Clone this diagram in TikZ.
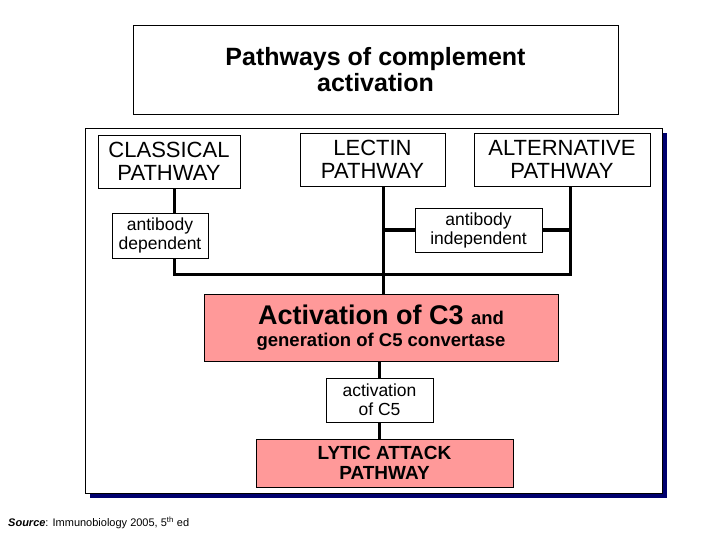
\documentclass[tikz,border=0pt]{standalone}
\usepackage{fontspec}
\setmainfont{Liberation Sans}
\definecolor{pinkbox}{RGB}{255,153,153}
\definecolor{navyshadow}{RGB}{0,0,110}
\tikzset{
  box/.style={draw=black, fill=white, line width=0.8pt, align=center, inner sep=0pt},
  pinkbx/.style={box, fill=pinkbox},
  link/.style={line width=3pt}
}
\begin{document}
\begin{tikzpicture}[x=1pt, y=-1pt]
\useasboundingbox (0,0) rectangle (720,540);

% Titolo
\node[box, minimum width=485pt, minimum height=89pt, font=\bfseries\fontsize{25}{26}\selectfont] (title) at (375.5,69.5) {Pathways of complement\\activation};

% Cornice con ombra
\fill[navyshadow] (90,133) rectangle (667,498);
\draw[fill=white, line width=0.8pt] (85,128) rectangle (662,493);

% Vie
\node[box, minimum width=142pt, minimum height=53pt, font=\fontsize{22}{23}\selectfont] (classical) at (169,161.5) {CLASSICAL\\PATHWAY};
\node[box, minimum width=145pt, minimum height=53pt, font=\fontsize{22}{23}\selectfont] (lectin) at (372.5,159.5) {LECTIN\\PATHWAY};
\node[box, minimum width=176pt, minimum height=53pt, font=\fontsize{22}{23}\selectfont] (alternative) at (562,159.5) {ALTERNATIVE\\PATHWAY};

\node[box, minimum width=96pt, minimum height=45pt, font=\fontsize{17.5}{19}\selectfont] (dep) at (160,235.5) {antibody\\dependent};
\node[box, minimum width=127pt, minimum height=44pt, font=\fontsize{17.5}{19}\selectfont] (indep) at (478.5,230) {antibody\\independent};

\node[pinkbx, minimum width=354pt, minimum height=67pt] (c3) at (381,327.5) {{\bfseries\fontsize{27}{28}\selectfont Activation of C3 \fontsize{18.5}{20}\selectfont and}\\[7pt]{\bfseries\fontsize{18.5}{20}\selectfont generation of C5 convertase}};
\node[box, minimum width=107pt, minimum height=44pt, font=\fontsize{17.5}{19}\selectfont] (c5) at (379.5,400) {activation\\of C5};
\node[pinkbx, minimum width=257pt, minimum height=48pt, font=\bfseries\fontsize{19}{20}\selectfont] (lytic) at (384.5,463) {LYTIC ATTACK\\PATHWAY};

% Collegamenti
\coordinate (jl) at (174,274);
\coordinate (jr) at (570,274);
\coordinate (jm) at (383,230);
\coordinate (jn) at (570,230);
\draw[link] (classical.south -| jl) -- (dep.north -| jl);
\draw[link] (dep.south -| jl) -- (jl) -- (jr) -- (alternative.south -| jr);
\draw[link] (lectin.south -| jm) -- (c3.north -| jm);
\draw[link] (jm) -- (indep.west);
\draw[link] (indep.east) -- (jn);
\draw[link] (c3.south -| c5) -- (c5.north);
\draw[link] (c5.south) -- (lytic.north -| c5);

% Fonte
\node[anchor=west, font=\fontsize{11}{12}\selectfont, inner sep=0pt] (source) at (8,523) {\textbf{\textit{Source}}: Immunobiology 2005, 5\textsuperscript{th} ed};
\end{tikzpicture}
\end{document}
